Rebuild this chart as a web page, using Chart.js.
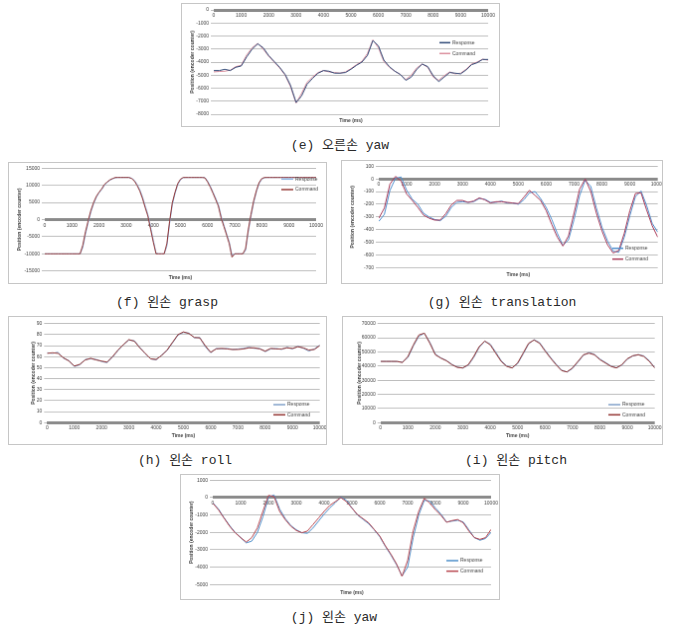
<!DOCTYPE html>
<html>
<head>
<meta charset="utf-8">
<script src="https://cdn.jsdelivr.net/npm/chart.js@4.4.1/dist/chart.umd.min.js"></script>
<style>
  html, body { margin: 0; padding: 0; background: #ffffff; }
  body { width: 676px; height: 627px; position: relative; overflow: hidden; }
  canvas.panel { position: absolute; border: 1px solid #c6c6c6; }
  .cap { position: absolute; transform: translate(-50%, -50%); white-space: nowrap;
         font-family: "Liberation Mono", "DejaVu Sans Mono", "Noto Sans CJK KR", monospace;
         font-size: 13px; color: #2a2a2a; }
</style>
</head>
<body>
<canvas class="panel" id="cE"></canvas>
<canvas class="panel" id="cF"></canvas>
<canvas class="panel" id="cG"></canvas>
<canvas class="panel" id="cH"></canvas>
<canvas class="panel" id="cI"></canvas>
<canvas class="panel" id="cJ"></canvas>
<div class="cap" style="left:340px;top:143px;">(e) 오른손 yaw</div>
<div class="cap" style="left:167px;top:300px;">(f) 왼손 grasp</div>
<div class="cap" style="left:502px;top:300px;">(g) 왼손 translation</div>
<div class="cap" style="left:185px;top:458px;">(h) 왼손 roll</div>
<div class="cap" style="left:516px;top:458px;">(i) 왼손 pitch</div>
<div class="cap" style="left:334px;top:615px;">(j) 왼손 yaw</div>
<script>
// ---------- DATA ----------
const seriesNames = ['Response', 'Command'];
const xTitle = 'Time (ms)';
const yTitle = 'Position (encoder counter)';

const time200 = [
  0,200,400,600,800,1000,1200,1400,1600,1800,
  2000,2200,2400,2600,2800,3000,3200,3400,3600,3800,
  4000,4200,4400,4600,4800,5000,5200,5400,5600,5800,
  6000,6200,6400,6600,6800,7000,7200,7400,7600,7800,
  8000,8200,8400,8600,8800,9000,9200,9400,9600,9800,
  10000];

const time100 = [
  0,100,200,300,400,500,600,700,800,900,
  1000,1100,1200,1300,1400,1500,1600,1700,1800,1900,
  2000,2100,2200,2300,2400,2500,2600,2700,2800,2900,
  3000,3100,3200,3300,3400,3500,3600,3700,3800,3900,
  4000,4100,4200,4300,4400,4500,4600,4700,4800,4900,
  5000,5100,5200,5300,5400,5500,5600,5700,5800,5900,
  6000,6100,6200,6300,6400,6500,6600,6700,6800,6900,
  7000,7100,7200,7300,7400,7500,7600,7700,7800,7900,
  8000,8100,8200,8300,8400,8500,8600,8700,8800,8900,
  9000,9100,9200,9300,9400,9500,9600,9700,9800,9900,
  10000];

// (e) right hand yaw
const eResponse = [
  -4650,-4650,-4550,-4650,-4400,-4300,-3600,-3000,-2600,-2900,
  -3500,-3950,-4400,-4950,-5800,-7100,-6600,-5700,-5250,-4850,
  -4650,-4700,-4850,-4850,-4800,-4550,-4250,-4000,-3500,-2350,
  -2750,-3850,-4350,-4700,-4950,-5400,-5150,-4550,-4150,-4350,
  -5050,-5500,-5150,-4800,-4850,-4900,-4600,-4200,-4050,-3800,
  -3800];
const eCommand = [
  -4750,-4720,-4700,-4620,-4350,-4250,-3450,-2900,-2570,-3000,
  -3550,-4000,-4450,-5000,-5900,-7150,-6400,-5550,-5150,-4800,
  -4650,-4750,-4800,-4850,-4750,-4500,-4200,-3950,-3350,-2300,
  -2900,-3950,-4400,-4700,-4950,-5350,-5000,-4450,-4150,-4400,
  -5150,-5400,-5050,-4750,-4900,-4850,-4550,-4150,-4000,-3780,
  -3850];

// (f) left hand grasp
const fResponse = [
  -10000,-10000,-10000,-10000,-10000,-10000,-10000,-10000,-10000,-10000,
  -10000,-10000,-10000,-10000,-8200,-4200,-900,2200,4600,6500,
  7800,8800,10000,10900,11500,11900,12200,12300,12300,12300,
  12300,12300,12100,11500,10300,8800,6700,4000,1500,-2200,
  -6000,-9800,-10000,-10000,-10000,-7800,-1200,4300,7600,10200,
  11600,12200,12300,12300,12300,12300,12300,12300,12300,12300,
  11300,9800,8000,6200,4300,1000,-1600,-4100,-6600,-10500,
  -10000,-10000,-10000,-10000,-9000,-3600,1000,5000,8100,10500,
  11800,12200,12300,12300,12300,12300,12300,12300,12300,12300,
  12300,12300,12300,12300,12300,12300,12300,12300,12300,12300,
  12300];
const fCommand = [
  -10000,-10000,-10000,-10000,-10000,-10000,-10000,-10000,-10000,-10000,
  -10000,-10000,-10000,-10000,-7500,-3500,-300,2700,5000,6800,
  8000,9000,10300,11000,11600,12000,12300,12300,12300,12300,
  12300,12300,12000,11300,10000,8400,6200,3500,1000,-2800,
  -6600,-10000,-10000,-10000,-10000,-7000,-500,4900,8000,10500,
  11800,12300,12300,12300,12300,12300,12300,12300,12300,12200,
  11000,9500,7700,5800,3900,500,-2000,-4500,-7000,-11000,
  -10000,-10000,-10000,-10000,-8500,-3000,1500,5500,8500,10800,
  12000,12300,12300,12300,12300,12300,12300,12300,12300,12300,
  12300,12300,12300,12300,12300,12300,12300,12300,12300,12300,
  12300];

// (g) left hand translation
const gResponse = [
  -335,-280,-90,5,15,-90,-160,-200,-270,-300,
  -320,-330,-295,-225,-185,-180,-185,-180,-155,-160,
  -185,-185,-175,-190,-190,-200,-165,-110,-100,-155,
  -225,-320,-430,-525,-480,-320,-130,-10,-60,-230,
  -380,-490,-570,-580,-460,-290,-140,-95,-210,-350,
  -420];
const gCommand = [
  -310,-230,-40,20,-18,-120,-170,-225,-285,-310,
  -325,-325,-275,-205,-170,-170,-185,-175,-150,-165,
  -190,-180,-180,-185,-190,-195,-145,-90,-130,-170,
  -250,-360,-460,-530,-450,-270,-80,0,-100,-270,
  -410,-520,-585,-565,-430,-250,-115,-110,-245,-370,
  -460];

// (h) left hand roll
const hResponse = [
  63.5,63,64,58.5,56.5,51,52.5,57.5,58,57.5,
  55.5,54.5,59.5,65.5,71,75,74.5,68.5,62.5,58,
  57,61.5,65.5,72.5,79.5,82,81.5,77,77.5,69,
  63.5,67.5,67,67.5,66.5,67,67.5,68.5,67.5,67.5,
  64.5,67,67.5,66.5,68.5,67,69.5,67.5,65,67,
  70.5];
const hCommand = [
  63,63.5,63,59,56,51.5,53,57,58.5,57,
  56,55,60,66,71,75.5,74,68,63,58,
  57.5,61,66,73,80,82.5,81,77.5,77,70,
  64,67,67.5,67,66.5,66.5,67,68,68,67,
  65,67.5,67,67,68,67.5,69,68,66,66.5,
  70];

// (i) left hand pitch
const iResponse = [
  43300,43300,43300,43200,42800,46000,54200,61000,63200,56800,
  48500,45800,44000,41300,39300,38600,40600,46000,53200,57500,
  55600,50000,43800,40200,38600,41700,48400,55600,58700,56600,
  51300,46100,41500,37200,35800,38200,42800,47600,49600,48300,
  45000,42600,40100,38800,40600,44800,47100,48100,47200,43800,
  39000];
const iCommand = [
  43300,43300,43300,43300,42500,46800,55000,62000,63300,56100,
  48000,45600,43800,41000,39100,38700,41000,46800,53800,57700,
  55000,49100,43300,39800,38700,42200,49100,56100,58400,56100,
  50700,45600,41000,36800,35900,38700,43300,48000,49100,48000,
  44500,42200,39800,38700,41000,45200,47300,48000,46800,43300,
  38700];

// (j) left hand yaw
const jResponse = [
  -300,-650,-1150,-1600,-2000,-2300,-2600,-2500,-2000,-1100,
  30,150,-650,-1200,-1600,-1850,-2020,-2050,-1750,-1350,
  -950,-600,-300,30,-150,-600,-1000,-1250,-1500,-1850,
  -2250,-2800,-3300,-3850,-4500,-4000,-2300,-1000,-150,-200,
  -600,-950,-1400,-1350,-1300,-1400,-1850,-2300,-2450,-2350,
  -2000];
const jCommand = [
  -320,-700,-1170,-1640,-2020,-2300,-2550,-2300,-1740,-790,
  130,60,-790,-1260,-1640,-1890,-2020,-1920,-1550,-1170,
  -790,-450,-230,0,-230,-600,-980,-1210,-1450,-1830,
  -2210,-2770,-3250,-3810,-4530,-3620,-1920,-790,-40,-320,
  -700,-1020,-1420,-1320,-1260,-1450,-1920,-2300,-2400,-2300,
  -1830];

// y-axis ranges (tick labels)
const eTicks = { min: -8000, max: 0, step: 1000 };
const fTicks = { min: -15000, max: 15000, step: 5000 };
const gTicks = { min: -700, max: 100, step: 100 };
const hTicks = { min: 0, max: 90, step: 10 };
const iTicks = { min: 0, max: 70000, step: 10000 };
const jTicks = { min: -5000, max: 1000, step: 1000 };
const xTicks = { min: 0, max: 10000, step: 1000 };

// ---------- RENDERING ----------
Chart.defaults.font.family = '"Liberation Sans", Arial, sans-serif';
const FS = 5;
const TXT = '#404040';
const GRID = '#adadad';
const ZERO = '#8a8a8a';

const excelLegend = {
  id: 'excelLegend',
  afterDatasetsDraw(chart, args, opts) {
    const ctx = chart.ctx;
    ctx.save();
    ctx.font = FS + 'px "Liberation Sans", Arial, sans-serif';
    ctx.textBaseline = 'middle';
    ctx.textAlign = 'left';
    chart.data.datasets.forEach((ds, i) => {
      const y = opts.ys[i];
      ctx.strokeStyle = ds.borderColor;
      ctx.lineWidth = 1.5;
      ctx.beginPath();
      ctx.moveTo(opts.x0, y);
      ctx.lineTo(opts.x1, y);
      ctx.stroke();
      ctx.fillStyle = TXT;
      ctx.fillText(ds.label, opts.tx, y);
    });
    ctx.restore();
  }
};

function pts(t, v) { return t.map((x, k) => ({ x: x, y: v[k] })); }

function build(id, s) {
  const cv = document.getElementById(id);
  cv.width = s.W; cv.height = s.H;
  cv.style.left = s.left + 'px'; cv.style.top = s.top + 'px';
  return new Chart(cv.getContext('2d'), {
    type: 'line',
    data: {
      datasets: [
        { label: seriesNames[0], data: pts(s.time, s.resp), borderColor: s.colors[0],
          borderWidth: 1, pointRadius: 0, tension: 0, fill: false, order: s.respOrder },
        { label: seriesNames[1], data: pts(s.time, s.cmd), borderColor: s.colors[1],
          borderWidth: 1, pointRadius: 0, tension: 0, fill: false, order: 1 - s.respOrder }
      ]
    },
    options: {
      responsive: false, animation: false, devicePixelRatio: 1,
      layout: { padding: s.pad },
      plugins: {
        legend: { display: false },
        tooltip: { enabled: false },
        title: { display: true, text: xTitle, position: 'bottom', fullSize: false,
                 color: TXT, font: { size: FS, weight: 'bold' }, padding: s.tPad },
        excelLegend: s.legend
      },
      scales: {
        x: {
          type: 'linear', position: { y: 0 },
          min: xTicks.min, max: xTicks.max,
          ticks: { stepSize: xTicks.step, autoSkip: false, maxRotation: 0, padding: 2.7,
                   color: TXT, font: { size: FS }, callback: v => String(v) },
          grid: { display: false, drawTicks: false, tickLength: 0 }, border: { display: false },
          afterFit: sc => { sc.height = 0; sc.paddingLeft = 0; sc.paddingRight = 0; }
        },
        y: {
          min: s.ticks.min, max: s.ticks.max,
          ticks: { stepSize: s.ticks.step, padding: 2, color: TXT, font: { size: FS },
                   callback: v => String(v) },
          grid: {
            color: c => (c.tick && c.tick.value === 0) ? ZERO : GRID,
            lineWidth: c => (c.tick && c.tick.value === 0) ? 3 : 0.8,
            tickColor: GRID, tickWidth: 0.8, tickLength: 3, drawTicks: true
          },
          border: { display: false },
          title: { display: true, text: yTitle, color: TXT,
                   font: { size: FS, weight: 'bold' }, padding: { top: 4, bottom: 0 } },
          afterFit: sc => { sc.width = s.yW; sc.paddingTop = 0; sc.paddingBottom = 0; }
        }
      }
    },
    plugins: [excelLegend]
  });
}

build('cE', { left: 181, top: 3, W: 319, H: 124, time: time200, resp: eResponse, cmd: eCommand,
  colors: ['#2f4a78', '#d98c9a'], respOrder: 0, ticks: eTicks,
  pad: { left: 4, right: 11, top: 6, bottom: 1 }, yW: 28, tPad: { top: 4, bottom: 1 },
  legend: { x0: 259, x1: 270, ys: [39.3, 50.3], tx: 272 } });

build('cF', { left: 8, top: 162, W: 319, H: 122, time: time100, resp: fResponse, cmd: fCommand,
  colors: ['#8db4e2', '#953735'], respOrder: 1, ticks: fTicks,
  pad: { left: 4, right: 10, top: 5.3, bottom: 1.7 }, yW: 32, tPad: { top: 3.6, bottom: 1 },
  legend: { x0: 274, x1: 286, ys: [16.3, 27], tx: 288 } });

build('cG', { left: 341, top: 160, W: 322, H: 124, time: time200, resp: gResponse, cmd: gCommand,
  colors: ['#4f8fce', '#a83a58'], respOrder: 1, ticks: gTicks,
  pad: { left: 4, right: 4.3, top: 5.3, bottom: 4.7 }, yW: 33, tPad: { top: 4, bottom: 1 },
  legend: { x0: 272, x1: 283, ys: [88.7, 99.7], tx: 285 } });

build('cH', { left: 8, top: 316, W: 319, H: 129, time: time200, resp: hResponse, cmd: hCommand,
  colors: ['#7f9fc8', '#943634'], respOrder: 1, ticks: hTicks,
  pad: { left: 17.3, right: 6.3, top: 6.7, bottom: 4 }, yW: 21, tPad: { top: 10.7, bottom: 1 },
  legend: { x0: 266, x1: 278, ys: [89, 99.3], tx: 280 } });

build('cI', { left: 342, top: 316, W: 321, H: 129, time: time200, resp: iResponse, cmd: iCommand,
  colors: ['#7f9fc8', '#943634'], respOrder: 1, ticks: iTicks,
  pad: { left: 10, right: 7.3, top: 6.7, bottom: 4 }, yW: 27.7, tPad: { top: 10.7, bottom: 1 },
  legend: { x0: 267, x1: 279, ys: [89, 99.3], tx: 281 } });

build('cJ', { left: 180, top: 474, W: 320, H: 126, time: time200, resp: jResponse, cmd: jCommand,
  colors: ['#4a8cc8', '#b8474f'], respOrder: 1, ticks: jTicks,
  pad: { left: 3.3, right: 8, top: 5.3, bottom: 2.3 }, yW: 28.7, tPad: { top: 5.4, bottom: 1 },
  legend: { x0: 267, x1: 279, ys: [87, 97.7], tx: 281 } });
</script>
</body>
</html>
